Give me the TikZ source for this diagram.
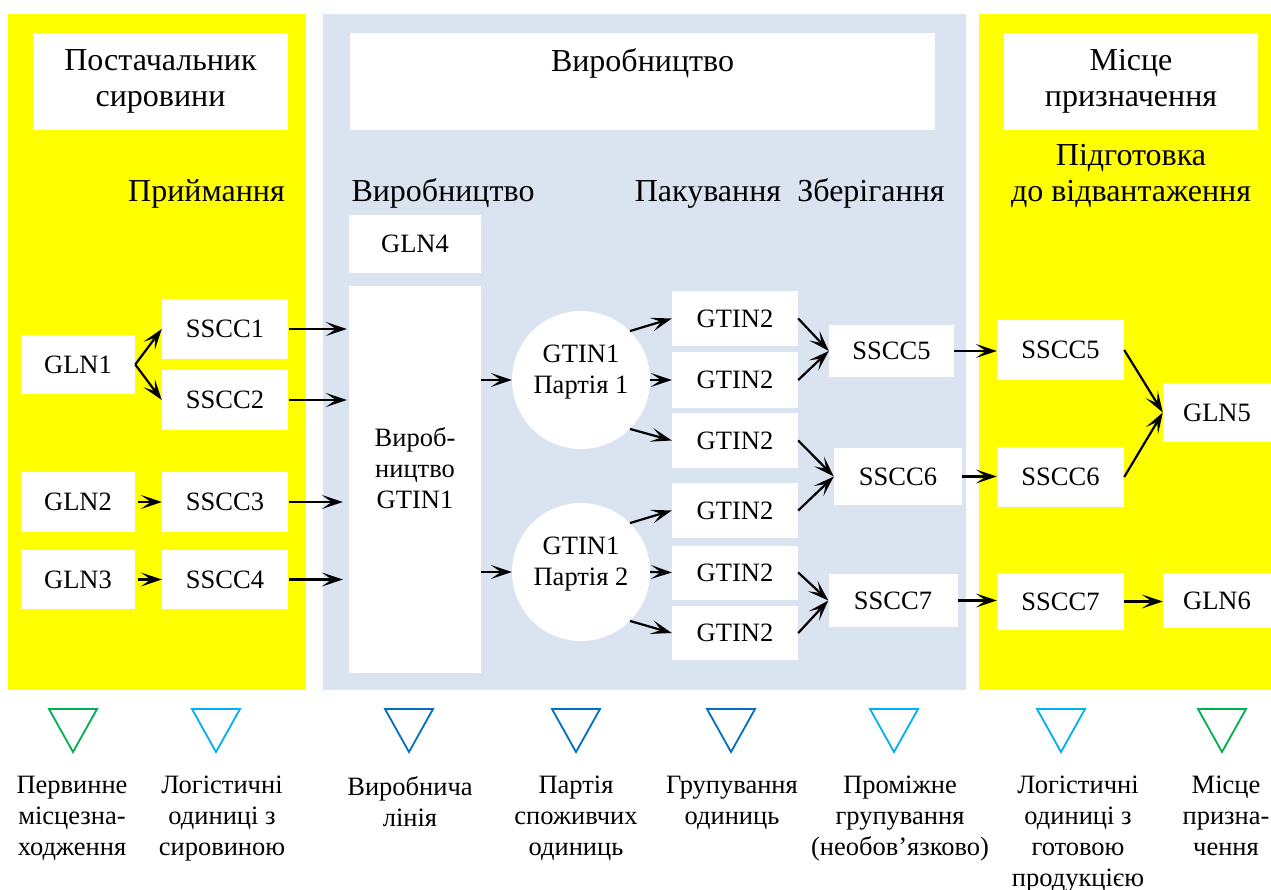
\documentclass[tikz,border=0pt]{standalone}
\usepackage{fontspec}
\setmainfont{Liberation Serif}
\newfontfamily\tnr{Liberation Serif}
\usetikzlibrary{arrows.meta}
\definecolor{ylw}{RGB}{255,255,0}
\definecolor{pale}{RGB}{218,227,240}
\definecolor{grn}{RGB}{0,176,80}
\definecolor{lblue}{RGB}{0,176,240}
\definecolor{dblue}{RGB}{0,112,192}
\begin{document}
\begin{tikzpicture}[x=1pt,y=-1pt,
  body/.style={font=\tnr\fontsize{26.5}{31}\selectfont},
  big/.style={font=\tnr\fontsize{32}{36}\selectfont},
  box/.style={fill=white, inner sep=0pt, body, align=center},
  panel/.style={inner sep=0pt, anchor=north west},
  conn/.style={-{Stealth[length=21pt,width=14pt,inset=10pt]}, line width=2.2pt, black},
  tri/.style={line width=1.8pt, line join=miter},
  lbl/.style={body, align=center, anchor=north, inner sep=0pt},
  ttl/.style={big, inner sep=0pt},
]
\useasboundingbox (0,0) rectangle (1271,890);
\fill[white] (0,0) rectangle (1271,890);
% panels
\node[panel, fill=ylw, minimum width=298pt, minimum height=676pt] (pL) at (8,14) {};
\node[panel, fill=pale, minimum width=643pt, minimum height=676pt] (pM) at (323,14) {};
\node[panel, fill=ylw, minimum width=292pt, minimum height=676pt] (pR) at (979,14) {};
% headers
\node[box, big, minimum width=255pt, minimum height=97pt] (hL) at (160.5,81.5) {Постачальник\\сировини};
\node[box, big, minimum width=585pt, minimum height=97pt] (hM) at (642.5,81.5) {Виробництво\\\phantom{сировини}};
\node[box, big, minimum width=254pt, minimum height=97pt] (hR) at (1131,81.5) {Місце\\призначення};
% section titles
\node[ttl, anchor=base east] (tL) at (285,202) {Приймання};
\node[ttl, anchor=base] (tM1) at (443,202) {Виробництво};
\node[ttl, anchor=base] (tM2) at (708,202) {Пакування};
\node[ttl, anchor=base] (tM3) at (871,202) {Зберігання};
\node[ttl, anchor=north, align=center] (tR) at (1131,144) {Підготовка\\до відвантаження};
% left boxes
\node[box, minimum width=114pt, minimum height=59pt] (gln1) at (78,364.5) {GLN1};
\node[box, minimum width=114pt, minimum height=60pt] (gln2) at (78,502) {GLN2};
\node[box, minimum width=114pt, minimum height=59pt] (gln3) at (78,579.5) {GLN3};
\node[box, minimum width=126pt, minimum height=60pt] (sscc1) at (225,329) {SSCC1};
\node[box, minimum width=126pt, minimum height=60pt] (sscc2) at (225,400) {SSCC2};
\node[box, minimum width=126pt, minimum height=60pt] (sscc3) at (225,502) {SSCC3};
\node[box, minimum width=126pt, minimum height=59pt] (sscc4) at (225,579.5) {SSCC4};
% production
\node[box, minimum width=132pt, minimum height=58pt] (gln4) at (415,244) {GLN4};
\node[box, minimum width=132pt, minimum height=386pt] (prod) at (415,479.5) {};
\node[lbl] (prodt) at (415,427) {Вироб-\\ництво\\GTIN1};
\node[circle, fill=white, minimum size=138pt, inner sep=0pt] (c1) at (581,380) {};
\node[lbl] (c1t) at (581,344.5) {GTIN1\\Партія 1};
\node[circle, fill=white, minimum size=138pt, inner sep=0pt] (c2) at (581,572) {};
\node[lbl] (c2t) at (581,536.5) {GTIN1\\Партія 2};
\node[box, minimum width=126pt, minimum height=55pt] (g1) at (735,318.5) {GTIN2};
\node[box, minimum width=126pt, minimum height=55pt] (g2) at (735,380) {GTIN2};
\node[box, minimum width=126pt, minimum height=55pt] (g3) at (735,440.5) {GTIN2};
\node[box, minimum width=126pt, minimum height=55pt] (g4) at (735,510.5) {GTIN2};
\node[box, minimum width=126pt, minimum height=54pt] (g5) at (735,572.5) {GTIN2};
\node[box, minimum width=126pt, minimum height=54pt] (g6) at (735,633) {GTIN2};
\node[box, minimum width=125pt, minimum height=52pt] (s5m) at (891.5,351) {SSCC5};
\node[box, minimum width=128pt, minimum height=57pt] (s6m) at (898,476.5) {SSCC6};
\node[box, minimum width=129pt, minimum height=53pt] (s7m) at (893,600.5) {SSCC7};
% right boxes
\node[box, minimum width=127pt, minimum height=60pt] (s5r) at (1060.5,350) {SSCC5};
\node[box, minimum width=127pt, minimum height=60pt] (s6r) at (1060.5,477) {SSCC6};
\node[box, minimum width=127pt, minimum height=57pt] (s7r) at (1060.5,601.5) {SSCC7};
\node[box, minimum width=108pt, minimum height=59pt] (gln5) at (1217,412.5) {GLN5};
\node[box, minimum width=108pt, minimum height=55pt] (gln6) at (1217,600.5) {GLN6};
% connectors
\draw[conn] (gln1.east) -- (sscc1.west);
\draw[conn] (gln1.east) -- (sscc2.west);
\draw[conn, shorten <=3pt] (gln2.east) -- (sscc3.west);
\draw[conn, shorten <=3pt] (gln3.east) -- (sscc4.west);
\draw[conn, shorten <=1pt, shorten >=2pt] (sscc1.east) -- (sscc1.east -| prod.west);
\draw[conn, shorten <=1pt, shorten >=2pt] (sscc2.east) -- (sscc2.east -| prod.west);
\draw[conn, shorten <=1pt, shorten >=6pt] (sscc3.east) -- (sscc3.east -| prod.west);
\draw[conn, shorten <=1pt, shorten >=6pt] (sscc4.east) -- (sscc4.east -| prod.west);
\draw[conn] (prod.east |- c1) -- (c1.west);
\draw[conn] (prod.east |- c2) -- (c2.west);
\draw[conn] (c1.45) -- (g1.west);
\draw[conn] (c1.east) -- (g2.west);
\draw[conn] (c1.-45) -- (g3.west);
\draw[conn] (c2.45) -- (g4.west);
\draw[conn] (c2.east) -- (g5.west);
\draw[conn] (c2.-45) -- (g6.west);
\draw[conn] (g1.east) -- (s5m.west);
\draw[conn] (g2.east) -- (s5m.west);
\draw[conn] (g3.east) -- (s6m.west);
\draw[conn] (g4.east) -- (s6m.west);
\draw[conn] (g5.east) -- (s7m.west);
\draw[conn] (g6.east) -- (s7m.west);
\draw[conn] (s5m.east) -- (s5m.east -| s5r.west);
\draw[conn] (s6m.east) -- (s6m.east -| s6r.west);
\draw[conn] (s7m.east) -- (s7m.east -| s7r.west);
\draw[conn] (s5r.east) -- (gln5.west);
\draw[conn] (s6r.east) -- (gln5.west);
\draw[conn] (s7r.east) -- (s7r.east -| gln6.west);
% legend triangles
\draw[tri, grn]   (49,709) -- (97,709) -- (73,752) -- cycle;
\draw[tri, lblue] (192,709) -- (240,709) -- (216,752) -- cycle;
\draw[tri, dblue] (385,709) -- (433,709) -- (409,752) -- cycle;
\draw[tri, dblue] (552,709) -- (600,709) -- (576,752) -- cycle;
\draw[tri, dblue] (707,709) -- (755,709) -- (731,752) -- cycle;
\draw[tri, lblue] (870,709) -- (918,709) -- (894,752) -- cycle;
\draw[tri, lblue] (1037,709) -- (1085,709) -- (1061,752) -- cycle;
\draw[tri, grn]   (1198,709) -- (1246,709) -- (1222,752) -- cycle;
% legend labels
\node[lbl] (l1) at (72,776) {Первинне\\місцезна-\\ходження};
\node[lbl] (l2) at (222,776) {Логістичні\\одиниці з\\сировиною};
\node[lbl] (l3) at (410,776) {Виробнича\\лінія};
\node[lbl] (l4) at (576,776) {Партія\\споживчих\\одиниць};
\node[lbl] (l5) at (732,776) {Групування\\одиниць};
\node[lbl] (l6) at (900,776) {Проміжне\\групування\\(необов’язково)};
\node[lbl] (l7) at (1078,776) {Логістичні\\одиниці з\\готовою\\продукцією};
\node[lbl] (l8) at (1226,776) {Місце\\призна-\\чення};
\end{tikzpicture}
\end{document}
